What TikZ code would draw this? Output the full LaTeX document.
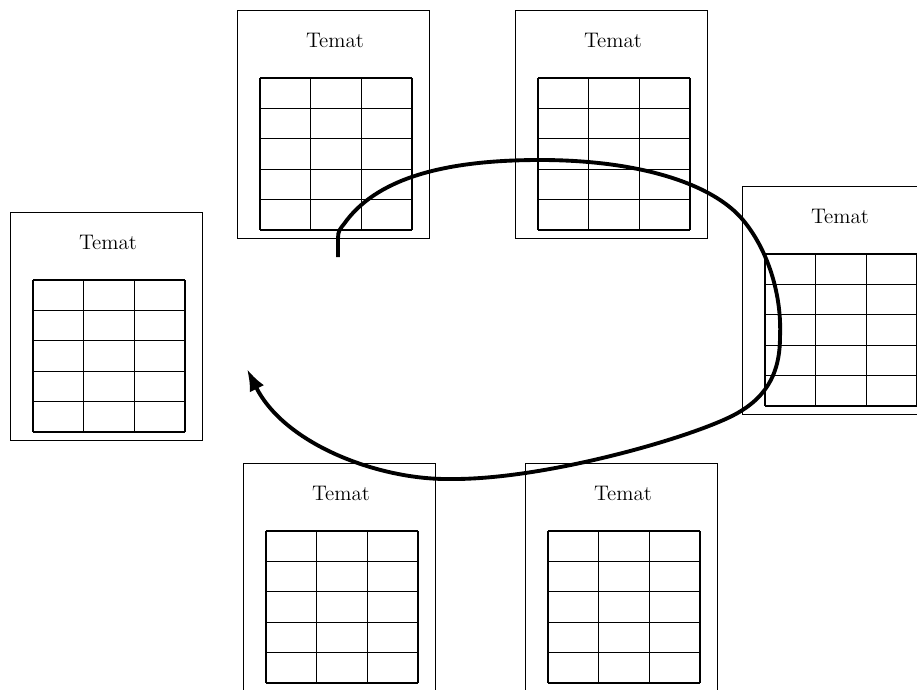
\documentclass[tikz,border=0pt]{standalone}
\usetikzlibrary{arrows.meta}

\begin{document}
\begin{tikzpicture}[x=0.02cm,y=-0.02cm]

  \tikzset{TEM/.style={draw, line width=0.5pt, minimum width=3.84cm, minimum height=4.56cm, inner sep=0pt} }
  \tikzset{GRD/.style={line width=0.65pt} }
  \tikzset{LOOP/.style={line width=2.2pt, -{Latex[length=4.4mm,width=3.2mm]}} }

  \useasboundingbox (0,0) rectangle (917,690);
  \clip (0,0) rectangle (917,690);

  \node[TEM] (t1) at (333,124) {};
  \node[TEM] (t2) at (611,124) {};
  \node[TEM] (t3) at (838,300) {};
  \node[TEM] (t4) at (106,326) {};
  \node[TEM] (t5) at (339,577) {};
  \node[TEM] (t6) at (621,577) {};

  \foreach \t in {t1,t2,t3,t4,t5,t6} {
    \node (\t-title) at ([shift={(2,-84)}]\t.center) {\large Temat};
    \begin{scope}[shift={(\t.center)}]
      \foreach \c in {0,1,2,3} \draw[GRD] (-73+\c*50.67,-46) -- (-73+\c*50.67,106);
      \foreach \r in {0,...,5} \draw[GRD] (-73,-46+\r*30.4) -- (79,-46+\r*30.4);
    \end{scope}
  }

  \coordinate (cs) at (338,257);
  \coordinate (ce) at (247,369);
  \draw[LOOP] (cs) -- (338,238)
    .. controls (338,231) and (340,229) .. (344,224)
    .. controls (375,180) and (440,160) .. (540,160)
    .. controls (640,160) and (713,184) .. (743,220)
    .. controls (768,250) and (782,295) .. (780,337)
    .. controls (780,375) and (765,400) .. (730,417)
    .. controls (680,441) and (540,480) .. (450,479)
    .. controls (380,480) and (285,445) .. (ce);
\end{tikzpicture}
\end{document}
